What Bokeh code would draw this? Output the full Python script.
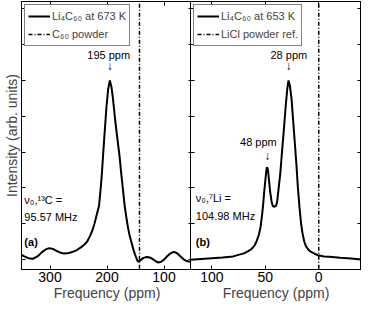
from bokeh.plotting import figure
from bokeh.models import (Range1d, LinearAxis, FixedTicker, CustomJSTickFormatter,
                          Legend, LegendItem)
from bokeh.layouts import row
from bokeh.core.properties import value
from bokeh.embed import file_html
from bokeh.resources import INLINE

# ---------------- data ----------------
# (a) 13C NMR spectrum of Li4C60 at 673 K
ppm_a = [350, 345, 338, 330, 322, 314, 307, 301, 295, 288, 281, 276, 270, 264, 258, 252,
         246, 240, 235, 230, 226, 222, 218, 214, 211, 209, 207, 205, 203, 201, 198, 195,
         192, 190, 188, 185, 182, 178, 175, 172, 169, 166, 163, 160, 157, 154, 151, 148,
         146, 143, 140, 136, 130, 125, 120, 115, 110, 105, 100, 95, 90, 85, 81, 76, 70,
         65, 60, 55, 50]
int_a = [0.027, 0.018, 0.008, 0.005, 0.018, 0.042, 0.058, 0.064, 0.060, 0.048, 0.038, 0.034,
         0.035, 0.040, 0.046, 0.055, 0.068, 0.083, 0.100, 0.130, 0.160, 0.200, 0.250, 0.300,
         0.400, 0.480, 0.577, 0.670, 0.760, 0.850, 0.950, 1.000, 0.960, 0.910, 0.850, 0.760,
         0.680, 0.577, 0.480, 0.390, 0.300, 0.235, 0.176, 0.130, 0.095, 0.060, 0.030, 0.005,
         -0.010, -0.008, 0.000, 0.010, 0.015, 0.012, 0.004, -0.008, -0.016, -0.012, 0.000,
         0.017, 0.032, 0.041, 0.042, 0.033, 0.015, 0.000, -0.008, -0.012, -0.012]
ref_a = 143            # C60 powder reference (ppm)

# (b) 7Li NMR spectrum of Li4C60 at 653 K
ppm_b = [120, 110, 100, 90, 80, 76, 70, 66, 63, 60, 58, 56, 54.5, 53, 52, 51, 50, 49, 48.4,
         47.5, 46.5, 45.5, 44, 43, 42, 40, 39, 37.5, 36, 34.7, 33, 31, 29.5, 28.3, 27, 25.5,
         24, 22.5, 21, 19.5, 18, 16.5, 15, 13.5, 12, 10, 8, 4, 1, -5, -10, -20, -30, -40]
int_b = [0.000, 0.004, 0.008, 0.012, 0.018, 0.025, 0.035, 0.048, 0.058, 0.080, 0.105, 0.140,
         0.180, 0.250, 0.310, 0.380, 0.440, 0.500, 0.516, 0.500, 0.440, 0.380, 0.320, 0.300,
         0.295, 0.300, 0.320, 0.400, 0.480, 0.577, 0.700, 0.850, 0.950, 1.000, 0.970, 0.900,
         0.780, 0.660, 0.540, 0.400, 0.290, 0.200, 0.140, 0.100, 0.075, 0.058, 0.046, 0.033,
         0.025, 0.018, 0.016, 0.010, 0.006, 0.000]
ref_b = 0              # LiCl powder reference (ppm)

xticks_a = [300, 200, 100]
xticks_b = [100, 50, 0]
yticks = [0, 0.2, 0.4, 0.6, 0.8, 1.0, 1.2, 1.4]

FONT = "Liberation Sans"
FW, FH = 171, 268
YR = (-0.055, 1.44)


def blank():
    return CustomJSTickFormatter(code="return ''")


def style_axis(ax, ticks, labels=True):
    ax.ticker = FixedTicker(ticks=ticks)
    ax.major_tick_in = 4
    ax.major_tick_out = 0
    ax.minor_tick_in = 0
    ax.minor_tick_out = 0
    ax.axis_line_color = "black"
    ax.major_tick_line_color = "black"
    ax.major_tick_line_width = 1
    if labels:
        ax.major_label_text_font = FONT
        ax.major_label_text_font_size = "14px"
        ax.major_label_text_color = "black"
        ax.major_label_standoff = 2
    else:
        ax.formatter = blank()
        ax.major_label_standoff = 0


def make_fig(xr, xticks, ylabel):
    p = figure(frame_width=FW, frame_height=FH, x_range=Range1d(*xr), y_range=Range1d(*YR),
               output_backend="svg", toolbar_location=None, min_border=0,
               min_border_top=1, min_border_left=0, min_border_right=0)
    p.xgrid.visible = False
    p.ygrid.visible = False
    p.outline_line_color = "black"
    p.outline_line_alpha = 1
    p.background_fill_color = "white"
    p.border_fill_color = None
    xa = p.xaxis[0]
    style_axis(xa, xticks, True)
    xa.axis_label = "Frequency (ppm)"
    xa.axis_label_text_font = FONT
    xa.axis_label_text_font_size = "14px"
    xa.axis_label_text_font_style = "normal"
    xa.axis_label_standoff = 0
    ya = p.yaxis[0]
    style_axis(ya, yticks, False)
    if ylabel:
        ya.axis_label = ylabel
        ya.axis_label_text_font = FONT
        ya.axis_label_text_font_size = "14px"
        ya.axis_label_text_font_style = "normal"
        ya.axis_label_standoff = 2
    top = LinearAxis()
    style_axis(top, xticks, False)
    p.add_layout(top, "above")
    right = LinearAxis()
    style_axis(right, yticks, False)
    p.add_layout(right, "right")
    return p


def add_spectrum(p, ppm, inten, ref, lab1, lab2):
    r1 = p.line(ppm, inten, line_color="black", line_width=2)
    r2 = p.line([ref, ref], [YR[0] - 1, YR[1] + 1], line_color="black", line_width=1.5,
                line_dash="4 2 1 2")
    leg = Legend(items=[LegendItem(label=lab1, renderers=[r1]),
                        LegendItem(label=lab2, renderers=[r2])],
                 location="top_left", margin=3, padding=3, spacing=2,
                 label_text_font=FONT, label_text_font_size="11px",
                 label_height=16, glyph_height=16, glyph_width=22, label_standoff=2,
                 border_line_color="black", border_line_width=1,
                 background_fill_alpha=1)
    p.add_layout(leg)


def txt(p, x, y, s, align="left", size="11px", style="normal"):
    p.text([x], [y], text=[s], text_font=value(FONT), text_font_size=size,
           text_align=align, text_baseline="middle", text_font_style=style,
           text_color="black")


# ---------------- panel (a) ----------------
pa = make_fig((350, 50), xticks_a, "Intensity (arb. units)")
add_spectrum(pa, ppm_a, int_a, ref_a, "Li\u2084C\u2086\u2080 at 673 K", "C\u2086\u2080 powder")
txt(pa, 197, 1.143, "195 ppm", "center")
txt(pa, 195, 1.08, "\u2193", "center", "12px")
txt(pa, 345, 0.335, "\u03bd\u2080,\u00b9\u00b3C =")
txt(pa, 345, 0.238, "95.57 MHz")
txt(pa, 345, 0.10, "(a)", style="bold")

# ---------------- panel (b) ----------------
pb = make_fig((120, -40), xticks_b, None)
add_spectrum(pb, ppm_b, int_b, ref_b, "Li\u2084C\u2086\u2080 at 653 K", "LiCl powder ref.")
txt(pb, 28, 1.143, "28 ppm", "center")
txt(pb, 28.3, 1.08, "\u2193", "center", "12px")
txt(pb, 56.5, 0.654, "48 ppm", "center")
txt(pb, 48.3, 0.577, "\u2193", "center", "12px")
txt(pb, 115, 0.342, "\u03bd\u2080,\u2077Li =")
txt(pb, 115, 0.242, "104.98 MHz")
txt(pb, 115, 0.10, "(b)", style="bold")
pb.styles = {"margin-left": "-2px"}

layout = row(pa, pb, spacing=0)
open("out.html", "w").write(file_html(layout, INLINE))
